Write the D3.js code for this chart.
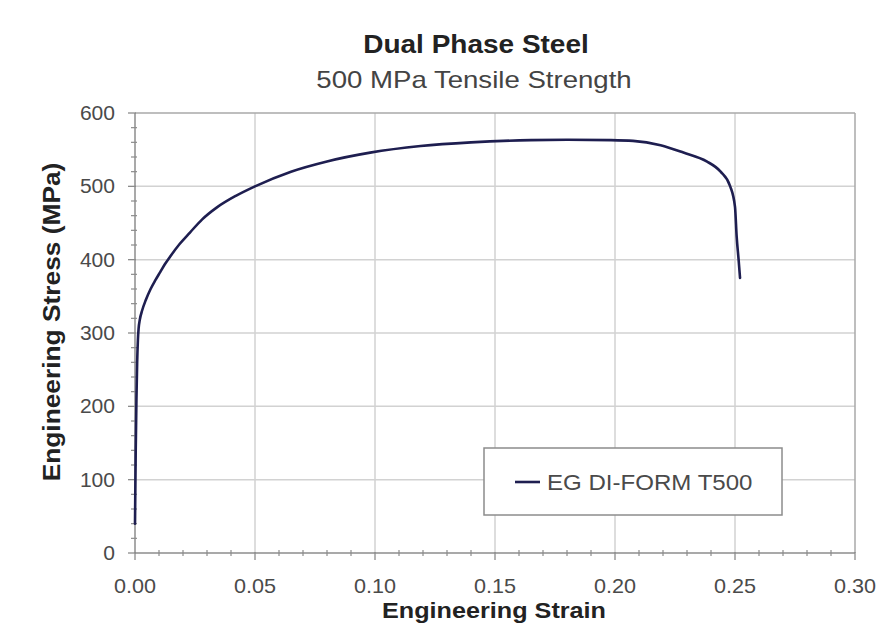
<!DOCTYPE html>
<html>
<head>
<meta charset="utf-8">
<script src="https://cdn.jsdelivr.net/npm/d3@7"></script>
<style>
  html, body { margin: 0; padding: 0; background: #fff; }
  svg text { font-family: "Liberation Sans", Arial, sans-serif; }
</style>
</head>
<body>
<svg id="chart" width="881" height="630"></svg>
<script>
// ---- data ----
const title = "Dual Phase Steel";
const subtitle = "500 MPa Tensile Strength";
const xTitle = "Engineering Strain";
const yTitle = "Engineering Stress (MPa)";
const seriesName = "EG DI-FORM T500";

const xTicks = [0.00, 0.05, 0.10, 0.15, 0.20, 0.25, 0.30];
const yTicks = [0, 100, 200, 300, 400, 500, 600];

const strain = [0.0000, 0.0003, 0.0006, 0.0009, 0.0012, 0.0015, 0.0020, 0.0030, 0.0045, 0.0065, 0.0085, 0.0105,
                0.0125, 0.0146, 0.0185, 0.0229, 0.0280, 0.0340, 0.0420, 0.0500, 0.0650, 0.0800, 0.0980,
                0.1190, 0.1400, 0.1650, 0.1800, 0.1980, 0.2075, 0.2190, 0.2285, 0.2382, 0.2440, 0.2480,
                0.2500, 0.2507, 0.2515, 0.2521];
const stress = [40, 140, 210, 260, 290, 306, 318, 331, 345, 360, 372, 383,
                394, 404, 421, 437, 455, 471, 487, 500, 520, 534, 546,
                555, 560, 563, 563.5, 563, 562, 556, 546, 534, 520, 500,
                472, 431, 400, 375];

// ---- layout ----
const svg = d3.select("#chart");
const W = 881, H = 630;
const m = { left: 135, right: 26, top: 113, bottom: 77 };
const x = d3.scaleLinear().domain([0, 0.30]).range([m.left, W - m.right]);
const y = d3.scaleLinear().domain([0, 600]).range([H - m.bottom, m.top]);

function stretchedText(g, tx, ty, str, o) {
  return g.append("text")
    .attr("transform", `translate(${tx},${ty}) scale(${o.sx || 1},1)`)
    .attr("text-anchor", o.anchor || "middle")
    .attr("font-size", o.size)
    .attr("font-weight", o.weight || "normal")
    .attr("fill", o.fill || "#333")
    .text(str);
}

const gridColor = "#d2d2d2", axisColor = "#8c8c8c";

// grid
const grid = svg.append("g");
grid.selectAll("line.h").data(yTicks.slice(1, -1)).join("line")
  .attr("x1", x(0)).attr("x2", x(0.30))
  .attr("y1", d => y(d)).attr("y2", d => y(d))
  .attr("stroke", gridColor).attr("stroke-width", 1.5);
grid.selectAll("line.v").data(xTicks.slice(1, -1)).join("line")
  .attr("y1", y(0)).attr("y2", y(600))
  .attr("x1", d => x(d)).attr("x2", d => x(d))
  .attr("stroke", gridColor).attr("stroke-width", 1.5);

// plot border (top/right)
svg.append("line").attr("x1", x(0.30)).attr("x2", x(0.30)).attr("y1", y(0)).attr("y2", y(600))
  .attr("stroke", "#a8a8a8").attr("stroke-width", 1.5);
svg.append("line").attr("x1", x(0)).attr("x2", x(0.30)).attr("y1", y(600)).attr("y2", y(600))
  .attr("stroke", "#a8a8a8").attr("stroke-width", 1.5);

// minor tick values
const minorY = d3.range(0, 601, 20).filter(v => v % 100 !== 0);
const minorX = d3.range(0, 31, 1).filter(i => i % 5 !== 0).map(i => i / 100);

// x axis
const axX = svg.append("g").attr("transform", `translate(0,${y(0)})`);
axX.append("line").attr("x1", x(0)).attr("x2", x(0.30)).attr("stroke", axisColor).attr("stroke-width", 1.5);
axX.selectAll("line.mj").data(xTicks).join("line").attr("class", "mj")
  .attr("x1", d => x(d)).attr("x2", d => x(d)).attr("y1", -1).attr("y2", 7)
  .attr("stroke", axisColor).attr("stroke-width", 1.3);
axX.selectAll("line.mn").data(minorX).join("line").attr("class", "mn")
  .attr("x1", d => x(d)).attr("x2", d => x(d)).attr("y1", -3).attr("y2", 3)
  .attr("stroke", axisColor).attr("stroke-width", 1.2);
xTicks.forEach(v => stretchedText(axX, x(v), 40, d3.format(".2f")(v),
  { size: 20, sx: 1.08, fill: "#4a4a4a" }));

// y axis
const axY = svg.append("g").attr("transform", `translate(${x(0)},0)`);
axY.append("line").attr("y1", y(0)).attr("y2", y(600)).attr("stroke", axisColor).attr("stroke-width", 1.5);
axY.selectAll("line.mj").data(yTicks).join("line").attr("class", "mj")
  .attr("y1", d => y(d)).attr("y2", d => y(d)).attr("x1", -7).attr("x2", 1)
  .attr("stroke", axisColor).attr("stroke-width", 1.3);
axY.selectAll("line.mn").data(minorY).join("line").attr("class", "mn")
  .attr("y1", d => y(d)).attr("y2", d => y(d)).attr("x1", -4).attr("x2", 2)
  .attr("stroke", axisColor).attr("stroke-width", 1.2);
yTicks.forEach(v => stretchedText(axY, -20, y(v) + 7, String(v),
  { size: 19.5, sx: 1.08, fill: "#4a4a4a", anchor: "end" }));

// curve
const pts = strain.map((s, i) => [s, stress[i]]);
const line = d3.line().x(d => x(d[0])).y(d => y(d[1])).curve(d3.curveMonotoneX);
svg.append("path").datum(pts)
  .attr("d", line)
  .attr("fill", "none").attr("stroke", "#1e1e50").attr("stroke-width", 2.6)
  .attr("stroke-linejoin", "round").attr("stroke-linecap", "round");

// legend
const lg = svg.append("g");
lg.append("rect").attr("x", 484).attr("y", 448).attr("width", 298).attr("height", 67)
  .attr("fill", "#fff").attr("stroke", "#8c8c8c").attr("stroke-width", 1.5);
lg.append("line").attr("x1", 515).attr("x2", 540).attr("y1", 482).attr("y2", 482)
  .attr("stroke", "#1e1e50").attr("stroke-width", 2.6);
stretchedText(lg, 547, 490, seriesName, { size: 21.5, sx: 1.12, fill: "#4a4a4a", anchor: "start" });

// titles
stretchedText(svg, 476, 53, title, { size: 25, sx: 1.12, weight: "bold", fill: "#222" });
stretchedText(svg, 474, 88, subtitle, { size: 23, sx: 1.2, fill: "#444" });
stretchedText(svg, 494, 618, xTitle, { size: 22.5, sx: 1.12, weight: "bold", fill: "#222" });
svg.append("text")
  .attr("transform", `translate(60,322) rotate(-90) scale(1.12,1)`)
  .attr("text-anchor", "middle").attr("font-size", 23.5).attr("font-weight", "bold").attr("fill", "#222")
  .text(yTitle);
</script>
</body>
</html>
